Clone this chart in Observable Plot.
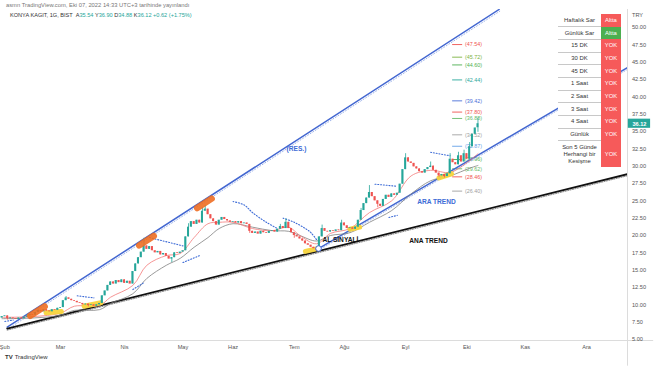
<!DOCTYPE html>
<html><head><meta charset="utf-8">
<script src="https://cdn.jsdelivr.net/npm/d3@7"></script>
<script src="https://cdn.jsdelivr.net/npm/@observablehq/plot@0.6"></script>
<style>
html,body{margin:0;padding:0;background:#fff;overflow:hidden;}
#wrap{position:relative;width:654px;height:366px;font-family:"Liberation Sans",Arial,sans-serif;}
#chart{position:absolute;left:0;top:0;}
.hdr1{position:absolute;left:6px;top:2px;font-size:5.8px;color:#777;white-space:nowrap}
.hdr2{position:absolute;left:10px;top:12px;font-size:5.6px;color:#333;white-space:nowrap}
.hdr2 .v{color:#26a69a}
.try{position:absolute;left:632px;top:12px;font-size:5.6px;color:#555}
.foot{position:absolute;left:5px;top:354px;font-size:6px;color:#333;white-space:nowrap}
.foot b{font-weight:900;margin-right:2px}
#tbl{position:absolute;left:558px;top:14px;border-collapse:collapse;font-size:5.9px;color:#333;background:#fff}
#tbl td{padding:0;text-align:center;line-height:1.15}
#tbl td.l{width:43px;border-bottom:0.8px solid #c8c8c8}
#tbl td.c{width:20px;color:#fff}
</style></head>
<body><div id="wrap"><div id="chart"></div>
<div class="hdr1">asmn TradingView.com, Eki 07, 2022 14:33 UTC+3 tarihinde yayınlandı</div>
<div class="hdr2">KONYA KAGIT, 1G, BIST &nbsp;A<span class="v">35.54</span> Y<span class="v">36.90</span> D<span class="v">34.88</span> K<span class="v">36.12</span> <span class="v">+0.62 (+1.75%)</span></div>
<div class="try">TRY</div>
<table id="tbl"></table>
<div class="foot"><b>TV</b>TradingView</div>
</div>
<script>
// ---------- data ----------
const startIndex = -1; // bar index of first candle (Feb 1 2022 = 0, trading days)
const opens = [8.1,8.3,8.4,8.0,8.1,8.0,7.9,8.1,8.0,8.2,8.4,
8.6,8.5,8.9,9.2,9.0,9.3,9.1,9.0,9.3,9.2,
9.5,9.6,10.6,11.0,10.8,10.6,10.5,10.3,10.2,10.0,
10.1,9.9,10.0,9.8,10.0,10.2,11.3,12.0,12.8,13.3,
13.0,13.5,13.2,13.6,13.1,13.4,13.0,14.8,15.9,16.8,
17.6,18.5,18.0,18.4,17.8,17.5,17.7,17.2,17.4,17.0,
16.6,16.8,17.5,17.4,17.6,17.8,19.8,21.2,22.0,21.6,
22.2,21.8,23.5,23.8,23.0,22.4,22.0,21.5,22.2,22.6,
22.3,22.1,21.9,22.0,21.8,22.0,21.7,21.8,21.6,20.6,
20.3,20.5,20.2,20.6,20.4,20.3,20.6,20.7,20.5,20.9,
21.3,21.0,21.9,21.0,20.4,20.0,19.8,19.5,19.2,18.8,
18.6,18.3,18.1,18.2,19.8,21.0,20.6,20.5,20.7,20.6,
20.8,20.7,21.8,21.4,21.0,21.1,20.9,21.2,22.2,23.6,
24.6,25.4,26.2,25.6,25.0,24.5,24.2,25.2,25.8,25.5,
26.0,25.8,26.1,27.4,29.5,31.2,30.6,30.4,29.9,29.6,
29.2,29.0,29.5,29.8,30.0,29.4,29.0,28.6,28.8,28.5,
28.9,31.0,30.5,30.2,31.5,30.6,31.8,31.0,32.8,34.6,
35.54];
const closes = [8.3,8.4,8.0,8.1,8.0,7.9,8.1,8.0,8.2,8.4,8.6,
8.5,8.9,9.2,9.0,9.3,9.1,9.0,9.3,9.2,9.5,
9.6,10.6,11.0,10.8,10.6,10.5,10.3,10.2,10.0,10.1,
9.9,10.0,9.8,10.0,10.2,11.3,12.0,12.8,13.3,13.0,
13.5,13.2,13.6,13.1,13.4,13.0,14.8,15.9,16.8,17.6,
18.5,18.0,18.4,17.8,17.5,17.7,17.2,17.4,17.0,16.6,
16.8,17.5,17.4,17.6,17.8,19.8,21.2,22.0,21.6,22.2,
21.8,23.5,23.8,23.0,22.4,22.0,21.5,22.2,22.6,22.3,
22.1,21.9,22.0,21.8,22.0,21.7,21.8,21.6,20.6,20.3,
20.5,20.2,20.6,20.4,20.3,20.6,20.7,20.5,20.9,21.3,
21.0,21.9,21.0,20.4,20.0,19.8,19.5,19.2,18.8,18.6,
18.3,18.1,17.9,19.8,21.0,20.6,20.5,20.7,20.6,20.8,
20.7,21.8,21.4,21.0,21.1,20.9,21.2,22.2,23.6,24.6,
25.4,26.2,25.6,25.0,24.5,24.2,25.2,25.8,25.5,26.0,
25.8,26.1,27.4,29.5,31.2,30.6,30.4,29.9,29.6,29.2,
29.0,29.5,29.8,30.0,29.4,29.0,28.6,28.8,28.5,28.9,
31.0,30.5,30.2,31.5,30.6,31.8,31.0,32.8,34.6,35.5,
36.12];
const wickHighs = [[22,11.2],[50,19.6],[66,21.7],[71,24.0],[72,24.3],[99,21.6],[101,22.4],[114,21.5],[121,22.2],[128,23.9],[131,27.2],[144,31.8],[153,30.6],[160,31.8],[163,32.0],[165,32.3],[167,33.4],[170,36.90]];
const wickLows = [[1,7.8],[30,9.7],[60,16.1],[88,20.3],[104,19.6],[112,17.7],[134,24.0],[156,28.4],[158,28.3],[170,34.88]];

const monthIdx = [0,20,43,64,82,104,122,144,166,187,209];
const monthLabels = ["Şub","Mar","Nis","May","Haz","Tem","Ağu","Eyl","Eki","Kas","Ara"];
const priceTicks = [5,7.5,10,12.5,15,17.5,20,22.5,25,27.5,30,32.5,35,37.5,40,42.5,45,47.5,50];
const lastPrice = 36.12;

const redMA = [[-1,8.2],[10,8.3],[20,8.8],[25,9.8],[34,9.9],[38,11.1],[46,12.8],[51,15.7],[58,17.1],[63,17.4],[68,19.7],[73,21.7],[77,21.9],[82,21.9],[89,21.0],[96,20.7],[102,21.2],[106,20.0],[112,18.8],[117,20.3],[124,21.0],[131,23.3],[139,25.0],[146,28.6],[153,29.4],[160,29.1],[167,30.8],[170,31.8]];
const grayMA = [[-1,8.0],[10,8.1],[20,8.5],[25,9.2],[34,9.3],[38,10.2],[46,11.6],[51,13.8],[58,15.7],[63,16.7],[68,18.3],[73,19.7],[77,21.0],[82,21.7],[89,21.2],[96,20.7],[102,20.6],[106,20.0],[112,19.2],[117,20.0],[124,20.4],[131,21.9],[139,23.6],[146,26.0],[153,27.9],[160,28.6],[167,29.7],[170,30.1]];
const sarSegments = [
  [[0,7.6],[3,7.8]],
  [[26,11.3],[32,11.0]],
  [[46,12.2],[50,13.2]],
  [[52,19.7],[64,18.5]],
  [[64,16.1],[70,17.1]],
  [[82,24.9],[86,24.4],[89,23.3],[94,21.9],[98,21.0]],
  [[100,22.5],[104,21.9],[108,21.0],[110,20.4],[112,19.4]],
  [[133,27.4],[141,27.1]],
  [[138,22.6],[141,22.9]],
  [[153,32.0],[160,31.5]]
];

const pivotValues = [47.54,45.72,44.60,42.44,39.42,37.80,36.88,34.52,32.87,30.96,29.62,28.46,26.40];
const pivotColors = ["#ef5350","#7cb342","#4caf50","#26a69a","#4a6fd8","#ef5350","#66bb6a","#a0a0a0","#64a0e8","#4caf50","#66bb6a","#ef5350","#9e9e9e"];
const pivotStart = 160.9, pivotEnd = 164.5;

const resLine = [[0.85,6.77],[177.6,52.6]];
const araLine = [[112.7,18.12],[223.73,44.22]];
const anaLine = [[0.85,6.58],[223.73,28.85]];
const handleIdx = [112.7, 202.5];
const orangeBlobs = [[9.1,14.3],[48.3,53.5],[69.1,74.3]]; // along RES line
const yellowBlobs = [[14.8,8.85,20.3,9.05],[28.5,9.8,34.5,10.3],[108,17.7,112.3,18.1],[124,20.9,127.5,21.2],[156,28.3,160.5,28.9]];

const annotText = ["(RES.)","ARA TREND","AL SİNYALİ","ANA TREND"];
const annotX = [104.8,155.1,114.1,152.2];
const annotY = [32.55,24.9,19.42,19.28];
const annotColor = ["#3d6bd6","#3d6bd6","#111","#111"];
const annotAnchor = ["middle","middle","start","middle"];

const tableLabels = ["Haftalık Sar","Günlük Sar","15 DK","30 DK","45 DK","1 Saat","2 Saat","3 Saat","4 Saat","Günlük","Son 5 Günde<br>Herhangi bir<br>Kesişme"];
const tableValues = ["Altta","Altta","YOK","YOK","YOK","YOK","YOK","YOK","YOK","YOK","YOK"];
const tableColors = ["#f65a5a","#4caf50","#f65a5a","#f65a5a","#f65a5a","#f65a5a","#f65a5a","#f65a5a","#f65a5a","#f65a5a","#f65a5a"];

// ---------- build ----------
const up = "#26a69a", down = "#ef5350";
const hiMap = new Map(wickHighs), loMap = new Map(wickLows);
const bars = closes.map((c,k)=>{
  const i = startIndex + k, o = opens[k];
  const top = Math.max(o,c), bot = Math.min(o,c);
  return {i, o, c, top, bot: top-bot<0.06 ? top-0.06 : bot,
    hi: Math.max(top, hiMap.get(i) ?? top), lo: Math.min(bot, loMap.get(i) ?? bot),
    col: c >= o ? up : down};
});
const lineAt = (p,i)=> p[0][1] + (p[1][1]-p[0][1])*(i-p[0][0])/(p[1][0]-p[0][0]);
const xDomain = [-1.56, 223.73], yDomain = [4.854, 52.596];
const sarRows = sarSegments.flatMap((s,k)=>s.map(([i,v])=>({i,v,k})));
const pivRows = pivotValues.map((v,k)=>({v, col:pivotColors[k], label:"("+v.toFixed(2)+")"}));
const oRows = orangeBlobs.map(([a,b])=>({x1:a,y1:lineAt(resLine,a)-0.5,x2:b,y2:lineAt(resLine,b)-0.5}));
const yRows = yellowBlobs.map(([a,b,c,d])=>({x1:a,y1:b,x2:c,y2:d}));
const annRows = annotText.map((t,k)=>({t,x:annotX[k],y:annotY[k],c:annotColor[k],a:annotAnchor[k]}));

const chart = Plot.plot({
  width:654, height:366, marginLeft:0, marginRight:27, marginTop:9, marginBottom:26,
  x:{domain:xDomain, axis:null}, y:{domain:yDomain, axis:null},
  style:{background:"transparent", fontFamily:"Liberation Sans, Arial, sans-serif", overflow:"visible"},
  marks:[
    Plot.ruleY([yDomain[0]], {stroke:"#dcdcdc", x1:xDomain[0], x2:xDomain[1]+9.4}),
    Plot.ruleX([xDomain[1]], {stroke:"#dcdcdc", y1:yDomain[0]-3.7, y2:yDomain[1]}),
    // pivot levels
    Plot.ruleY(pivRows, {y:"v", x1:pivotStart, x2:pivotEnd, stroke:"col", strokeWidth:0.9}),
    Plot.text(pivRows, {x:pivotEnd+0.8, y:"v", text:"label", fill:"col", fontSize:5.4, textAnchor:"start"}),
    // trend lines
    Plot.line(resLine, {x:d=>d[0], y:d=>d[1], stroke:"#9fb4ea", strokeWidth:1, strokeDasharray:"1,2", dy:1.8, dx:0.6, clip:true}),
    Plot.line(resLine, {x:d=>d[0], y:d=>d[1], stroke:"#4367d1", strokeWidth:1.5, clip:true}),
    Plot.line(anaLine, {x:d=>d[0], y:d=>d[1], stroke:"#8a8a8a", strokeWidth:1, strokeDasharray:"1.2,1.3", dy:1.6, clip:true}),
    Plot.line(anaLine, {x:d=>d[0], y:d=>d[1], stroke:"#111", strokeWidth:1.8, clip:true}),
    Plot.line(araLine, {x:d=>d[0], y:d=>d[1], stroke:"#9fb4ea", strokeWidth:1, strokeDasharray:"1,2", dy:1.8, clip:true}),
    Plot.line(araLine, {x:d=>d[0], y:d=>d[1], stroke:"#4367d1", strokeWidth:1.5, clip:true}),
    // moving averages
    Plot.line(grayMA, {x:d=>d[0], y:d=>d[1], stroke:"#808080", strokeWidth:0.8, curve:"catmull-rom"}),
    Plot.line(redMA, {x:d=>d[0], y:d=>d[1], stroke:"#f27a7a", strokeWidth:0.8, curve:"catmull-rom"}),
    // SAR
    Plot.line(sarRows, {x:"i", y:"v", z:"k", stroke:"#3d6bd6", strokeWidth:1.1, strokeDasharray:"1,1.8", curve:"catmull-rom"}),
    // yellow highlights
    Plot.link(yRows, {x1:"x1", y1:"y1", x2:"x2", y2:"y2", stroke:"#f7d43c", strokeWidth:5, strokeLinecap:"round", strokeOpacity:0.95}),
    // candles
    Plot.ruleX(bars, {x:"i", y1:"lo", y2:"hi", stroke:"col", strokeWidth:0.8}),
    Plot.rect(bars, {x1:d=>d.i-0.36, x2:d=>d.i+0.36, y1:"bot", y2:"top", fill:"col"}),
    // orange highlights on resistance
    Plot.link(oRows, {x1:"x1", y1:"y1", x2:"x2", y2:"y2", stroke:"#ee6a1e", strokeWidth:6.5, strokeLinecap:"round", strokeOpacity:0.88}),
    // handles
    Plot.dot(handleIdx, {x:d=>d, y:d=>lineAt(araLine,d), r:2.8, fill:"#fff", stroke:"#4367d1", strokeWidth:1}),
    // annotations
    Plot.text(annRows.filter(d=>d.a==="middle"), {x:"x", y:"y", text:"t", fill:"c", textAnchor:"middle", fontSize:6.6, fontWeight:"bold"}),
    Plot.text(annRows.filter(d=>d.a==="start"), {x:"x", y:"y", text:"t", fill:"c", textAnchor:"start", fontSize:6.6, fontWeight:"bold"}),
    // axes
    Plot.text(monthIdx, {x:d=>d, y:yDomain[0], dy:6.5, text:(d,k)=>monthLabels[k], fontSize:5.6, fill:"#555"}),
    Plot.text(priceTicks, {x:xDomain[1], y:d=>d, dx:4.5, text:d=>d.toFixed(2), textAnchor:"start", fontSize:5.6, fill:"#555"}),
    Plot.rect([lastPrice], {x1:xDomain[1]+0.3, x2:xDomain[1]+8.3, y1:d=>d-0.66, y2:d=>d+0.66, fill:"#26a69a"}),
    Plot.text([lastPrice], {x:xDomain[1]+4.3, y:d=>d, text:d=>d.toFixed(2), fill:"#fff", fontSize:5.6, fontWeight:"bold"})
  ]
});
document.getElementById("chart").appendChild(chart);

// table
const tbl = document.getElementById("tbl");
tableLabels.forEach((lab,k)=>{
  const tr = document.createElement("tr");
  tr.style.height = (k===tableLabels.length-1 ? 26.4 : 12.7) + "px";
  const a = document.createElement("td"); a.className="l"; a.innerHTML = lab;
  if (k===tableLabels.length-1) a.style.borderBottom="none";
  const b = document.createElement("td"); b.className="c"; b.textContent = tableValues[k]; b.style.background = tableColors[k];
  tr.appendChild(a); tr.appendChild(b); tbl.appendChild(tr);
});
</script>
</body></html>
